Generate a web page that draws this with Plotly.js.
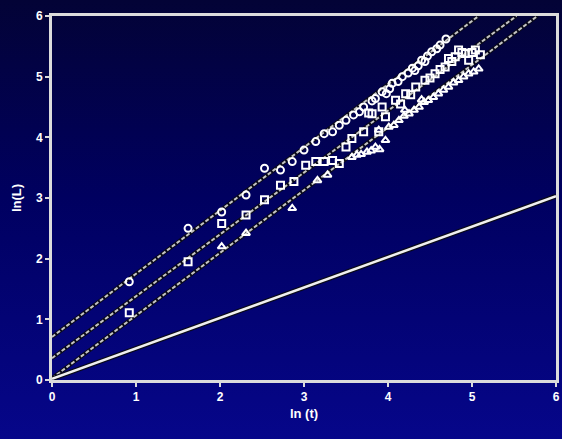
<!DOCTYPE html>
<html>
<head>
<meta charset="utf-8">
<script src="https://cdn.plot.ly/plotly-3.0.1.min.js"></script>
<style>
  html, body { margin: 0; padding: 0; }
  body { width: 562px; height: 439px; background: linear-gradient(to bottom, #030336 0%, #000060 45%, #06068a 100%); }
  #chart { width: 562px; height: 439px; }
</style>
</head>
<body>
<div id="chart"></div>
<script>
// Axis ticks
const tickVals = [0, 1, 2, 3, 4, 5, 6];
const tickText = ['0', '1', '2', '3', '4', '5', '6'];

// Series 1: open circles (upper line)
const circX = [0.92, 1.62, 2.02, 2.31, 2.53, 2.72, 2.86, 3.00, 3.14, 3.24, 3.34, 3.42, 3.50, 3.59, 3.66, 3.71, 3.81, 3.85, 3.93, 3.98, 4.02, 4.05, 4.12, 4.17, 4.24, 4.29, 4.32, 4.36, 4.40, 4.44, 4.47, 4.52, 4.58, 4.62, 4.69];
const circY = [1.62, 2.50, 2.77, 3.05, 3.49, 3.46, 3.60, 3.79, 3.93, 4.06, 4.09, 4.20, 4.28, 4.37, 4.42, 4.50, 4.60, 4.64, 4.75, 4.72, 4.80, 4.89, 4.92, 5.00, 5.06, 5.14, 5.10, 5.18, 5.27, 5.25, 5.34, 5.41, 5.46, 5.52, 5.62];

// Series 2: open squares (middle line)
const sqX = [0.92, 1.62, 2.02, 2.31, 2.53, 2.72, 2.88, 3.02, 3.14, 3.24, 3.34, 3.42, 3.50, 3.57, 3.71, 3.77, 3.81, 3.89, 3.93, 3.97, 4.09, 4.15, 4.21, 4.27, 4.33, 4.44, 4.50, 4.56, 4.62, 4.68, 4.72, 4.76, 4.80, 4.84, 4.88, 4.92, 4.96, 5.00, 5.04, 5.10];
const sqY = [1.11, 1.95, 2.58, 2.72, 2.97, 3.21, 3.27, 3.54, 3.60, 3.60, 3.62, 3.57, 3.84, 3.98, 4.09, 4.40, 4.39, 4.09, 4.50, 4.34, 4.61, 4.55, 4.72, 4.70, 4.83, 4.94, 4.98, 5.05, 5.12, 5.16, 5.30, 5.25, 5.33, 5.44, 5.40, 5.38, 5.27, 5.40, 5.44, 5.36];

// Series 3: open triangles (lower steep line)
const triX = [2.02, 2.31, 2.86, 3.16, 3.28, 3.57, 3.63, 3.68, 3.75, 3.80, 3.85, 3.90, 3.89, 3.97, 4.01, 4.07, 4.13, 4.19, 4.20, 4.25, 4.31, 4.37, 4.40, 4.43, 4.48, 4.54, 4.60, 4.66, 4.72, 4.78, 4.84, 4.90, 4.96, 5.02, 5.08];
const triY = [2.20, 2.42, 2.83, 3.29, 3.38, 3.67, 3.71, 3.72, 3.76, 3.78, 3.84, 3.80, 4.12, 3.95, 4.17, 4.20, 4.28, 4.35, 4.45, 4.39, 4.45, 4.50, 4.62, 4.58, 4.61, 4.66, 4.72, 4.78, 4.83, 4.90, 4.94, 5.00, 5.05, 5.08, 5.13];

// Fitted lines (end points)
const fitCircX = [0, 5.08];
const fitCircY = [0.71, 6.0];
const fitSqX = [0, 5.53];
const fitSqY = [0.36, 6.0];
const fitTriX = [0, 5.78];
const fitTriY = [0.03, 6.0];
const fitLowX = [0, 6.0];
const fitLowY = [0.02, 3.03];

const fitLine = (x, y) => ([
  { x: x, y: y, type: 'scatter', mode: 'lines', line: { color: '#0a0a1a', width: 4 }, hoverinfo: 'skip', showlegend: false },
  { x: x, y: y, type: 'scatter', mode: 'lines', line: { color: '#c4c4c4', width: 2, dash: '4px,2px' }, hoverinfo: 'skip', showlegend: false }
]);

const markerStyle = (sym) => ({ symbol: sym, size: 7, color: '#ffffff', line: { color: '#ffffff', width: 2 } });

const data = [
  ...fitLine(fitCircX, fitCircY),
  ...fitLine(fitSqX, fitSqY),
  ...fitLine(fitTriX, fitTriY),
  { x: fitLowX, y: fitLowY, type: 'scatter', mode: 'lines', line: { color: '#0a0a1a', width: 5 }, showlegend: false },
  { x: fitLowX, y: fitLowY, type: 'scatter', mode: 'lines', line: { color: '#f0f0f0', width: 2.5 }, showlegend: false },
  { x: circX, y: circY, type: 'scatter', mode: 'markers', marker: markerStyle('circle-open'), showlegend: false },
  { x: sqX, y: sqY, type: 'scatter', mode: 'markers', marker: markerStyle('square-open'), showlegend: false },
  { x: triX, y: triY, type: 'scatter', mode: 'markers', marker: markerStyle('triangle-up-open'), showlegend: false }
];

const axisCommon = {
  range: [0, 6],
  tickvals: tickVals,
  ticktext: tickText,
  showgrid: false,
  zeroline: false,
  showline: true,
  mirror: true,
  linecolor: '#dcdcdc',
  linewidth: 3,
  ticks: 'outside',
  ticklen: 4,
  tickwidth: 2,
  tickcolor: '#dcdcdc',
  tickfont: { family: 'Liberation Sans, Arial, sans-serif', size: 12, color: '#ffffff', weight: 'bold' }
};

const layout = {
  width: 562,
  height: 439,
  margin: { l: 52, r: 6, t: 16, b: 59 },
  paper_bgcolor: 'rgba(0,0,0,0)',
  plot_bgcolor: 'rgba(0,0,0,0)',
  showlegend: false,
  xaxis: Object.assign({}, axisCommon, {
    title: { text: '<b>ln (t)</b>', standoff: 6, font: { family: 'Liberation Sans, Arial, sans-serif', size: 13, color: '#ffffff' } }
  }),
  yaxis: Object.assign({}, axisCommon, {
    title: { text: '<b>ln(L)</b>', standoff: 12, font: { family: 'Liberation Sans, Arial, sans-serif', size: 13, color: '#ffffff' } }
  })
};

Plotly.newPlot('chart', data, layout, { displayModeBar: false, staticPlot: true });
</script>
</body>
</html>
